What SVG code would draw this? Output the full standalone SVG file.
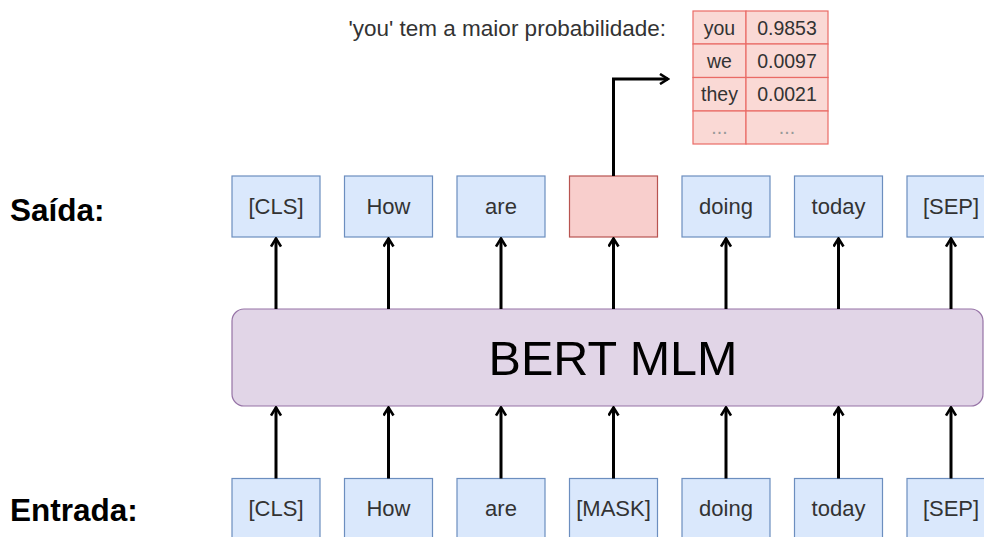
<svg xmlns="http://www.w3.org/2000/svg" width="984" height="537" viewBox="0 0 984 537">
  <defs>
    <marker id="open" viewBox="0 0 12 12" refX="10" refY="6" markerWidth="12" markerHeight="12" markerUnits="userSpaceOnUse" orient="auto">
      <path d="M2,1 L10,6 L2,11" fill="none" stroke="#000" stroke-width="2.6"/>
    </marker>
  </defs>
  <style>
    text { font-family: "Liberation Sans", Arial, sans-serif; }
    .tok rect { fill: #dae8fc; stroke: #6c8ebf; stroke-width: 1.2; }
    .tok text { font-size: 22px; fill: #333; text-anchor: middle; dominant-baseline: central; }
    .mask rect { fill: #f8cecc; stroke: #b85450; stroke-width: 1.2; }
    .cell { fill: #fad9d5; stroke: #ea6b66; stroke-width: 1.2; }
    .tbl text { font-size: 19.5px; fill: #333; text-anchor: middle; dominant-baseline: central; }
    .tbl text.dim { fill: #999; }
    .lbl { font-size: 31.5px; font-weight: bold; fill: #000; }
    .conn path { fill: none; stroke: #000; stroke-width: 3; marker-end: url(#open); }
  </style>

  <rect width="984" height="537" fill="#fff"/>

  <text class="lbl" x="10" y="221">Saída:</text>
  <text class="lbl" x="10" y="521">Entrada:</text>

  <!-- model block -->
  <g id="bert">
    <rect x="232" y="309" width="751" height="97" rx="12" fill="#e1d5e7" stroke="#9673a6" stroke-width="1.2"/>
    <text x="613" y="358" font-size="48.5" fill="#000" text-anchor="middle" dominant-baseline="central">BERT MLM</text>
  </g>

  <!-- output tokens -->
  <g id="out-cls" class="tok"><rect x="232" y="176" width="88" height="61"/><text x="276" y="206.5">[CLS]</text></g>
  <g id="out-how" class="tok"><rect x="344.5" y="176" width="88" height="61"/><text x="388.5" y="206.5">How</text></g>
  <g id="out-are" class="tok"><rect x="457" y="176" width="88" height="61"/><text x="501" y="206.5">are</text></g>
  <g id="out-mask" class="mask"><rect x="569.5" y="176" width="88" height="61"/></g>
  <g id="out-doing" class="tok"><rect x="682" y="176" width="88" height="61"/><text x="726" y="206.5">doing</text></g>
  <g id="out-today" class="tok"><rect x="794.5" y="176" width="88" height="61"/><text x="838.5" y="206.5">today</text></g>
  <g id="out-sep" class="tok"><rect x="907" y="176" width="88" height="61"/><text x="951" y="206.5">[SEP]</text></g>

  <!-- input tokens -->
  <g id="in-cls" class="tok"><rect x="232" y="478.5" width="88" height="70"/><text x="276" y="508">[CLS]</text></g>
  <g id="in-how" class="tok"><rect x="344.5" y="478.5" width="88" height="70"/><text x="388.5" y="508">How</text></g>
  <g id="in-are" class="tok"><rect x="457" y="478.5" width="88" height="70"/><text x="501" y="508">are</text></g>
  <g id="in-mask" class="tok"><rect x="569.5" y="478.5" width="88" height="70"/><text x="613.5" y="508">[MASK]</text></g>
  <g id="in-doing" class="tok"><rect x="682" y="478.5" width="88" height="70"/><text x="726" y="508">doing</text></g>
  <g id="in-today" class="tok"><rect x="794.5" y="478.5" width="88" height="70"/><text x="838.5" y="508">today</text></g>
  <g id="in-sep" class="tok"><rect x="907" y="478.5" width="88" height="70"/><text x="951" y="508">[SEP]</text></g>

  <!-- probability table -->
  <text x="666" y="36" font-size="22.5" fill="#333" text-anchor="end">'you' tem a maior probabilidade:</text>
  <g id="probs" class="tbl">
    <rect class="cell" x="693" y="11" width="53" height="33"/><rect class="cell" x="746" y="11" width="82" height="33"/>
    <rect class="cell" x="693" y="44" width="53" height="33.5"/><rect class="cell" x="746" y="44" width="82" height="33.5"/>
    <rect class="cell" x="693" y="77.5" width="53" height="33.5"/><rect class="cell" x="746" y="77.5" width="82" height="33.5"/>
    <rect class="cell" x="693" y="111" width="53" height="33"/><rect class="cell" x="746" y="111" width="82" height="33"/>
    <text x="719.5" y="27.5">you</text><text x="787" y="27.5">0.9853</text>
    <text x="719.5" y="61">we</text><text x="787" y="61">0.0097</text>
    <text x="719.5" y="94">they</text><text x="787" y="94">0.0021</text>
    <text class="dim" x="719.5" y="127" font-size="16">...</text><text class="dim" x="787" y="127" font-size="16">...</text>
  </g>

  <g id="connectors" class="conn">
    <path d="M276,309 V238.5"/>
    <path d="M388.5,309 V238.5"/>
    <path d="M501,309 V238.5"/>
    <path d="M613.5,309 V238.5"/>
    <path d="M726,309 V238.5"/>
    <path d="M838.5,309 V238.5"/>
    <path d="M951,309 V238.5"/>
    <path d="M276,478.5 V407.5"/>
    <path d="M388.5,478.5 V407.5"/>
    <path d="M501,478.5 V407.5"/>
    <path d="M613.5,478.5 V407.5"/>
    <path d="M726,478.5 V407.5"/>
    <path d="M838.5,478.5 V407.5"/>
    <path d="M951,478.5 V407.5"/>
    <path d="M613.5,176 V79 H668"/>
  </g>
</svg>
